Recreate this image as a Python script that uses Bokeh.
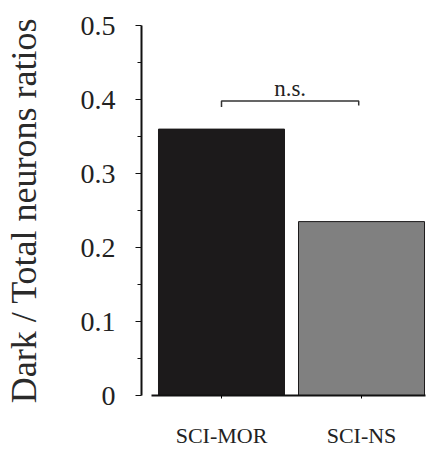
from bokeh.plotting import figure
from bokeh.models import Range1d, FixedTicker, CustomJSTickFormatter, ColumnDataSource
from bokeh.core.properties import value
from bokeh.embed import file_html
from bokeh.resources import INLINE

categories = ["SCI-MOR", "SCI-NS"]
positions = [0.5, 1.5]
ratios = [0.360, 0.235]
colors = ["#1c1a1b", "#808080"]
y_ticks = [0, 0.1, 0.2, 0.3, 0.4, 0.5]
sig_label = "n.s."
sig_y = 0.398

FONT = "Liberation Serif"

p = figure(width=433, height=450, output_backend="svg", toolbar_location=None,
           x_range=Range1d(-0.0714, 1.957), y_range=Range1d(0, 0.5),
           min_border_left=141, min_border_right=8, min_border_top=25, min_border_bottom=52)
p.outline_line_color = None
p.grid.visible = False

src = ColumnDataSource(dict(x=positions, top=ratios, color=colors))
p.vbar(x="x", top="top", width=0.9, bottom=0, fill_color="color", line_color="#1c1a1b",
       line_width=1, source=src)

# significance bracket
p.line(x=[positions[0], positions[0], positions[1] - 0.02, positions[1] - 0.02],
       y=[sig_y - 0.008, sig_y, sig_y, sig_y - 0.006], line_color="#333333", line_width=1.5)
p.text(x=[(positions[0] + positions[1] - 0.02) / 2], y=[sig_y + 0.017], text=[sig_label],
       text_font=value(FONT), text_font_size="23px", text_align="center",
       text_baseline="alphabetic", text_color="#222222")

# y axis
ya = p.yaxis[0]
ya.ticker = FixedTicker(ticks=y_ticks, minor_ticks=[0.05, 0.15, 0.25, 0.35, 0.45])
ya.formatter = CustomJSTickFormatter(code="return tick == 0 ? '0' : tick.toFixed(1);")
ya.axis_line_width = 2
ya.axis_line_color = "#111111"
ya.major_tick_in = 0
ya.major_tick_out = 6
ya.minor_tick_in = 0
ya.minor_tick_out = 4
ya.major_tick_line_color = "#111111"
ya.minor_tick_line_color = "#111111"
ya.major_label_text_font = FONT
ya.major_label_text_font_size = "28px"
ya.major_label_text_color = "#222222"
ya.major_label_standoff = 20
ya.axis_label = "Dark / Total neurons ratios"
ya.axis_label_text_font = FONT
ya.axis_label_text_font_size = "36px"
ya.axis_label_text_font_style = "normal"
ya.axis_label_text_color = "#2a2a2a"
ya.axis_label_standoff = 34

# x axis
xa = p.xaxis[0]
xa.ticker = FixedTicker(ticks=positions)
xa.major_label_overrides = {0.5: categories[0], 1.5: categories[1]}
xa.bounds = (0, 1.957)
xa.axis_line_width = 2
xa.axis_line_color = "#111111"
xa.major_tick_in = 0
xa.major_tick_out = 3
xa.minor_tick_line_color = None
xa.major_label_text_font = FONT
xa.major_label_text_font_size = "22px"
xa.major_label_text_color = "#222222"
xa.major_label_standoff = 24

open("out.html", "w").write(file_html(p, INLINE))
